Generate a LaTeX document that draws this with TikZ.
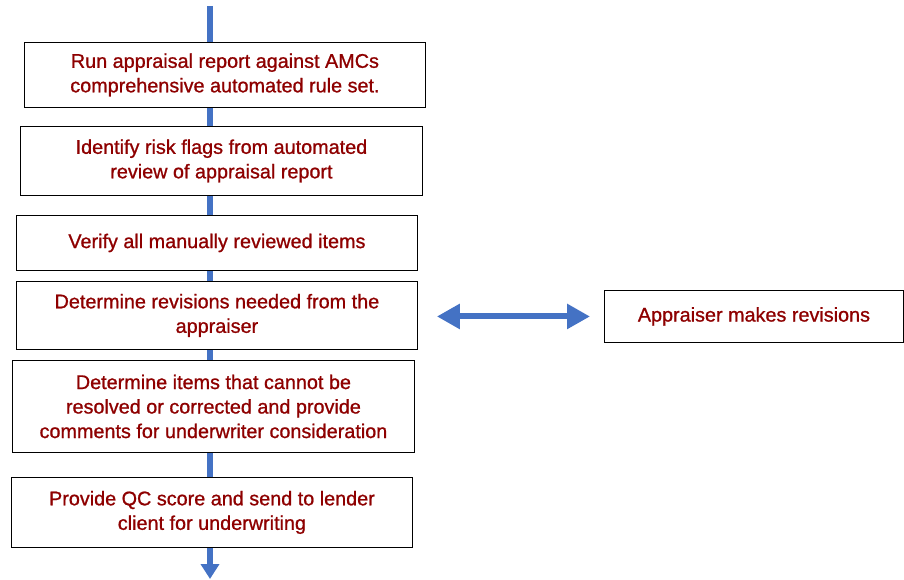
\documentclass[tikz,border=0pt]{standalone}
\usepackage{fontspec}
\setmainfont{Liberation Sans}[FakeBold=0.9]
\usepackage{xcolor}
\definecolor{flowblue}{HTML}{4472C4}
\definecolor{stepred}{HTML}{8E0000}
\usepackage{tikz}
\usetikzlibrary{arrows.meta, positioning}

\begin{document}
\begin{tikzpicture}[x=1pt, y=-1pt,
    stepbox/.style={draw=black, line width=0.9pt, fill=white, text=stepred,
      align=center, anchor=north west, inner sep=0pt,
      font=\fontsize{19.8}{24.5}\selectfont},
    flowline/.style={flowblue, line width=6pt,
      -{Triangle[width=18pt, length=15pt]}},
    backforth/.style={flowblue, line width=6pt,
      {Triangle[width=24pt, length=23pt]}-{Triangle[width=24pt, length=23pt]}}]
  \useasboundingbox (0,0) rectangle (904,580);
  % main flow line, behind the boxes
  \coordinate (top) at (210,6);
  \coordinate (bottom) at (210,579);
  \draw[flowline] (top) -- (bottom);
  % review steps
  \node[stepbox, minimum width=401pt, minimum height=65pt] (run) at (24,42)
    {Run appraisal report against AMCs\\comprehensive automated rule set.};
  \node[stepbox, minimum width=402pt, minimum height=69pt] (flags) at (20,126)
    {Identify risk flags from automated\\review of appraisal report};
  \node[stepbox, minimum width=401pt, minimum height=55pt] (verify) at (16,215)
    {Verify all manually reviewed items};
  \node[stepbox, minimum width=401pt, minimum height=68pt] (revise) at (16,281)
    {Determine revisions needed from the\\appraiser};
  \node[stepbox, minimum width=402pt, minimum height=92pt] (resolve) at (12,360)
    {Determine items that cannot be\\resolved or corrected and provide\\comments for underwriter consideration};
  \node[stepbox, minimum width=401pt, minimum height=70pt] (score) at (11,477)
    {Provide QC score and send to lender\\client for underwriting};
  % appraiser side
  \node[stepbox, minimum width=299pt, minimum height=52pt] (appraiser) at (604,290)
    {Appraiser makes revisions};
  \draw[backforth, shorten <=19pt, shorten >=14pt]
    ([yshift=-1pt]revise.east) -- ([yshift=-1pt]revise.east -| appraiser.west);
\end{tikzpicture}
\end{document}
